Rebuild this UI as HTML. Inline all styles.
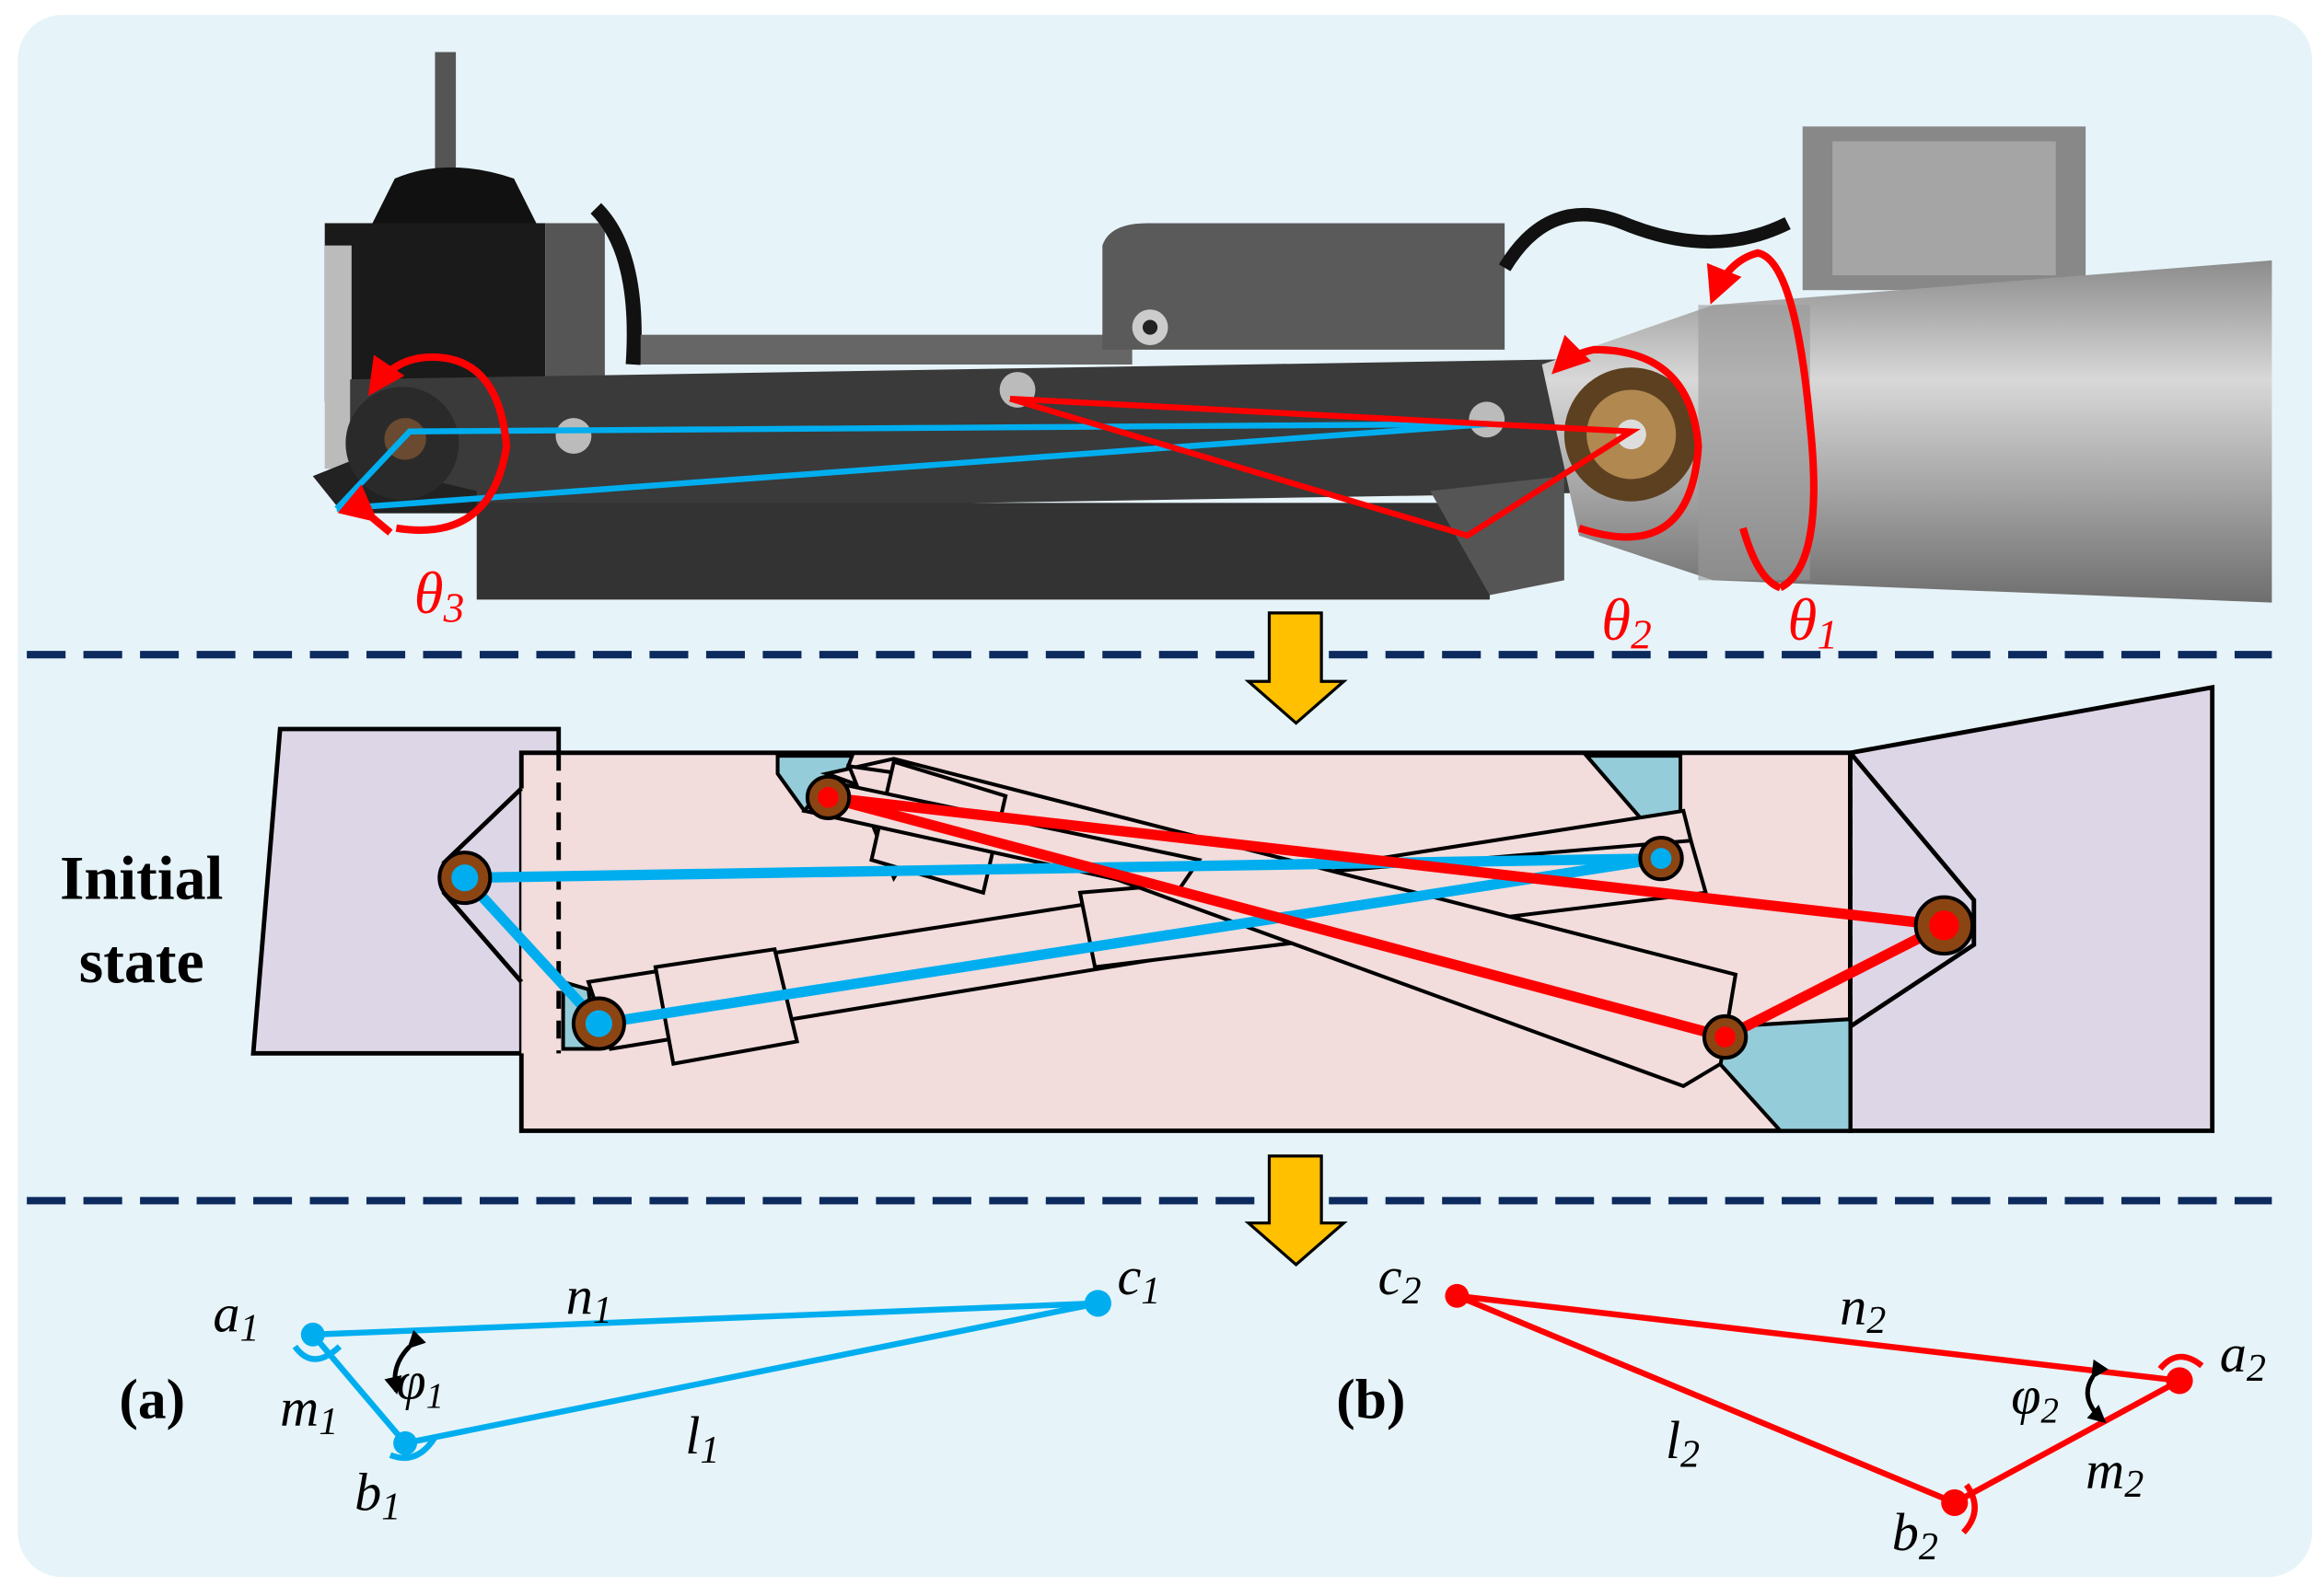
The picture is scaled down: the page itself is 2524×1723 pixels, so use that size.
<!DOCTYPE html>
<html><head><meta charset="utf-8"><style>
html,body{margin:0;padding:0;background:#fff;}
svg{display:block;}
svg text{font-family:"Liberation Serif","DejaVu Serif",serif;}
</style></head><body>
<svg width="2524" height="1723" viewBox="0 0 1560 1066" preserveAspectRatio="none" xmlns="http://www.w3.org/2000/svg" font-family="'Liberation Serif', 'DejaVu Serif', serif">
<defs>
<linearGradient id="cyl" x1="0" y1="0" x2="0" y2="1">
<stop offset="0" stop-color="#8c8c8c"/><stop offset="0.35" stop-color="#d8d8d8"/><stop offset="0.7" stop-color="#a0a0a0"/><stop offset="1" stop-color="#6e6e6e"/></linearGradient>
<marker id="ar" viewBox="0 0 10 10" refX="8" refY="5" markerWidth="5" markerHeight="5" orient="auto"><path d="M0,0 L10,5 L0,10 z" fill="#f00"/></marker>
<marker id="ak" viewBox="0 0 10 10" refX="8" refY="5" markerWidth="4" markerHeight="4" orient="auto"><path d="M0,0 L10,5 L0,10 z" fill="#000"/></marker>
</defs>
<rect x="0" y="0" width="1560" height="1066" fill="#fff"/>
<rect x="12" y="10" width="1540" height="1050" rx="30" fill="#e6f3f8"/>

<!-- PHOTO -->
<rect x="292" y="35" width="14" height="110" fill="#555"/>
<path d="M250,150 L265,120 Q300,105 345,120 L360,150 Z" fill="#111"/>
<rect x="218" y="150" width="148" height="120" fill="#1a1a1a"/>
<rect x="218" y="165" width="18" height="150" fill="#bbb"/>
<rect x="366" y="150" width="40" height="110" fill="#555"/>
<path d="M400,140 Q430,170 425,245" stroke="#111" stroke-width="10" fill="none"/>
<rect x="430" y="225" width="330" height="20" fill="#666"/>
<path d="M740,165 Q745,150 770,150 L1010,150 L1010,235 L740,235 Z" fill="#5a5a5a"/>
<circle cx="772" cy="220" r="12" fill="#ccc"/><circle cx="772" cy="220" r="5" fill="#222"/>
<path d="M1010,180 Q1040,130 1090,150 Q1150,175 1200,150" stroke="#111" stroke-width="9" fill="none"/>
<polygon points="235,255 1140,240 1140,330 235,345" fill="#3a3a3a"/>
<rect x="320" y="338" width="680" height="65" fill="#333"/>
<polygon points="210,320 235,310 320,330 320,345 230,345" fill="#222"/>
<circle cx="270" cy="298" r="38" fill="#2a2a2a"/>
<circle cx="272" cy="295" r="14" fill="#6a4a30"/>
<polygon points="960,330 1050,320 1050,390 1000,400" fill="#555"/>
<rect x="1210" y="85" width="190" height="110" fill="#888"/>
<rect x="1230" y="95" width="150" height="90" fill="#a5a5a5"/>
<path d="M1035,245 L1150,205 L1525,175 L1525,405 L1150,390 L1060,360 Z" fill="url(#cyl)"/>
<rect x="1140" y="205" width="75" height="185" fill="#999" opacity="0.6"/>
<circle cx="1095" cy="292" r="45" fill="#5c4020"/><circle cx="1095" cy="292" r="30" fill="#b08850"/><circle cx="1095" cy="292" r="10" fill="#ddd"/>
<circle cx="385" cy="293" r="12" fill="#bbb"/><circle cx="683" cy="262" r="12" fill="#bbb"/><circle cx="998" cy="282" r="12" fill="#bbb"/>
<polyline points="226,342 275,290 1000,285 226,342" fill="none" stroke="#00aeef" stroke-width="4"/>
<polyline points="678,268 1095,290 985,360 678,268" fill="none" stroke="#f00" stroke-width="4"/>
<path d="M266,355 Q330,365 340,300 Q335,240 290,240 Q265,240 250,262" fill="none" stroke="#f00" stroke-width="5" marker-end="url(#ar)"/>
<path d="M250,348 L262,358" stroke="#f00" stroke-width="5" marker-start="url(#ar)"/>
<path d="M1060,355 Q1135,380 1140,300 Q1135,235 1070,235 Q1055,238 1045,248" fill="none" stroke="#f00" stroke-width="5" marker-end="url(#ar)"/>
<path d="M1195,395 Q1225,380 1215,285 Q1205,175 1180,170 Q1160,175 1150,200" fill="none" stroke="#f00" stroke-width="5" marker-end="url(#ar)"/>
<path d="M1170,355 Q1180,390 1195,395" fill="none" stroke="#f00" stroke-width="5"/>
<text x="278" y="412" font-size="40" font-style="italic" fill="#f00">θ<tspan font-size="28" dy="6">3</tspan></text>
<text x="1075" y="430" font-size="40" font-style="italic" fill="#f00">θ<tspan font-size="28" dy="6">2</tspan></text>
<text x="1200" y="430" font-size="40" font-style="italic" fill="#f00">θ<tspan font-size="28" dy="6">1</tspan></text>

<line x1="18" y1="440" x2="1525" y2="440" stroke="#0c2a5e" stroke-width="5" stroke-dasharray="26,12"/>
<line x1="18" y1="807" x2="1525" y2="807" stroke="#0c2a5e" stroke-width="5" stroke-dasharray="26,12"/>

<polygon points="852,412 887,412 887,458 902,458 870,486 838,458 852,458" fill="#ffc000" stroke="#000" stroke-width="2"/>
<polygon points="852,777 887,777 887,822 902,822 870,850 838,822 852,822" fill="#ffc000" stroke="#000" stroke-width="2"/>

<!-- MIDDLE DIAGRAM -->
<polygon points="188,490 375,490 375,708 170,708" fill="#ddd6e6" stroke="#000" stroke-width="3"/>
<polygon points="350,506 1242,506 1242,760 350,760" fill="#f2dcdc" stroke="#000" stroke-width="3"/>
<polygon points="1242,506 1485,462 1485,760 1242,760" fill="#ddd6e6" stroke="#000" stroke-width="3"/>
<polygon points="350,530 375,530 375,708 350,708" fill="#f2dcdc"/>
<path d="M350,530 L298,580 L298,600 L350,660" fill="none" stroke="#000" stroke-width="3"/>
<path d="M1242,506 L1325,605 L1325,635 L1242,690" fill="none" stroke="#000" stroke-width="3"/>
<line x1="375" y1="506" x2="375" y2="708" stroke="#000" stroke-width="3" stroke-dasharray="12,8"/>
<line x1="1242" y1="510" x2="1242" y2="690" stroke="#000" stroke-width="3" stroke-dasharray="12,8"/>
<polygon points="522,508 572,508 560,540 540,545 522,520" fill="#95ccd9" stroke="#000" stroke-width="2.5"/>
<polygon points="1065,508 1128,508 1128,570 1110,560" fill="#95ccd9" stroke="#000" stroke-width="2.5"/>
<polygon points="1160,690 1242,685 1242,760 1195,760 1150,710" fill="#95ccd9" stroke="#000" stroke-width="2.5"/>
<polygon points="378,660 395,665 400,705 378,705" fill="#95ccd9" stroke="#000" stroke-width="2.5"/>
<g fill="#f2dcdc" stroke="#000" stroke-width="2.5">
<polygon points="395,660 1130,545 1140,585 410,705"/>
<polygon points="440,650 520,638 535,700 452,715"/>
<polygon points="725,600 1135,565 1145,600 735,650"/>
<polygon points="555,520 600,510 1165,655 1155,715 1130,730"/>
<polygon points="570,515 640,525 600,590"/>
<polygon points="600,512 675,535 660,600 585,578"/>
<polygon points="555,525 805,578 790,600 540,545"/>
</g>
<line x1="312" y1="590" x2="1115" y2="577" stroke="#00aeef" stroke-width="7"/>
<line x1="402" y1="688" x2="1115" y2="577" stroke="#00aeef" stroke-width="7"/>
<line x1="312" y1="590" x2="402" y2="688" stroke="#00aeef" stroke-width="7"/>
<line x1="556" y1="536" x2="1305" y2="622" stroke="#f00" stroke-width="7"/>
<line x1="556" y1="536" x2="1158" y2="697" stroke="#f00" stroke-width="7"/>
<line x1="1158" y1="697" x2="1305" y2="622" stroke="#f00" stroke-width="7"/>
<g stroke="#000" stroke-width="2.5" fill="#8b4513">
<circle cx="312" cy="590" r="17"/><circle cx="402" cy="688" r="17"/><circle cx="1115" cy="577" r="14"/>
<circle cx="556" cy="536" r="14"/><circle cx="1305" cy="622" r="19"/><circle cx="1158" cy="697" r="14"/>
</g>
<circle cx="312" cy="590" r="9" fill="#00aeef"/><circle cx="402" cy="688" r="9" fill="#00aeef"/><circle cx="1115" cy="577" r="7" fill="#00aeef"/>
<circle cx="556" cy="536" r="7" fill="#f00"/><circle cx="1305" cy="622" r="10" fill="#f00"/><circle cx="1158" cy="697" r="7" fill="#f00"/>
<text x="95" y="604" font-size="42" font-weight="bold" text-anchor="middle">Initial</text>
<text x="95" y="660" font-size="42" font-weight="bold" text-anchor="middle">state</text>

<!-- (a) -->
<g stroke="#00aeef" stroke-width="4" fill="none">
<line x1="210" y1="897" x2="737" y2="876"/>
<line x1="272" y1="970" x2="737" y2="876"/>
<line x1="210" y1="897" x2="272" y2="970"/>
<path d="M198,905 Q210,922 228,905"/>
<path d="M262,978 Q280,985 292,966"/>
</g>
<circle cx="210" cy="897" r="8" fill="#00aeef"/><circle cx="272" cy="970" r="8" fill="#00aeef"/><circle cx="737" cy="876" r="9" fill="#00aeef"/>
<path d="M275,905 Q262,918 266,935" stroke="#000" stroke-width="3" fill="none" marker-end="url(#ak)" marker-start="url(#ak)"/>
<g font-size="36" font-style="italic">
<text x="143" y="895">a<tspan font-size="26" dy="6">1</tspan></text>
<text x="380" y="883">n<tspan font-size="26" dy="6">1</tspan></text>
<text x="750" y="870">c<tspan font-size="26" dy="6">1</tspan></text>
<text x="188" y="958">m<tspan font-size="26" dy="6">1</tspan></text>
<text x="266" y="940">φ<tspan font-size="24" dy="6">1</tspan></text>
<text x="238" y="1015">b<tspan font-size="26" dy="6">1</tspan></text>
<text x="460" y="977">l<tspan font-size="26" dy="6">1</tspan></text>
</g>
<text x="80" y="953" font-size="38" font-weight="bold">(a)</text>

<!-- (b) -->
<g stroke="#f00" stroke-width="4" fill="none">
<line x1="978" y1="871" x2="1463" y2="928"/>
<line x1="978" y1="871" x2="1312" y2="1010"/>
<line x1="1312" y1="1010" x2="1463" y2="928"/>
<path d="M1450,920 Q1462,905 1478,918"/>
<path d="M1320,998 Q1332,1015 1318,1030"/>
</g>
<circle cx="978" cy="871" r="8" fill="#f00"/><circle cx="1463" cy="928" r="9" fill="#f00"/><circle cx="1312" cy="1010" r="9" fill="#f00"/>
<path d="M1405,925 Q1395,940 1412,955" stroke="#000" stroke-width="3" fill="none" marker-end="url(#ak)" marker-start="url(#ak)"/>
<g font-size="36" font-style="italic">
<text x="925" y="870">c<tspan font-size="26" dy="6">2</tspan></text>
<text x="1235" y="890">n<tspan font-size="26" dy="6">2</tspan></text>
<text x="1490" y="922">a<tspan font-size="26" dy="6">2</tspan></text>
<text x="1350" y="950">φ<tspan font-size="24" dy="6">2</tspan></text>
<text x="1400" y="1000">m<tspan font-size="26" dy="6">2</tspan></text>
<text x="1270" y="1042">b<tspan font-size="26" dy="6">2</tspan></text>
<text x="1118" y="980">l<tspan font-size="26" dy="6">2</tspan></text>
</g>
<text x="897" y="953" font-size="38" font-weight="bold">(b)</text>
</svg>
</body></html>
